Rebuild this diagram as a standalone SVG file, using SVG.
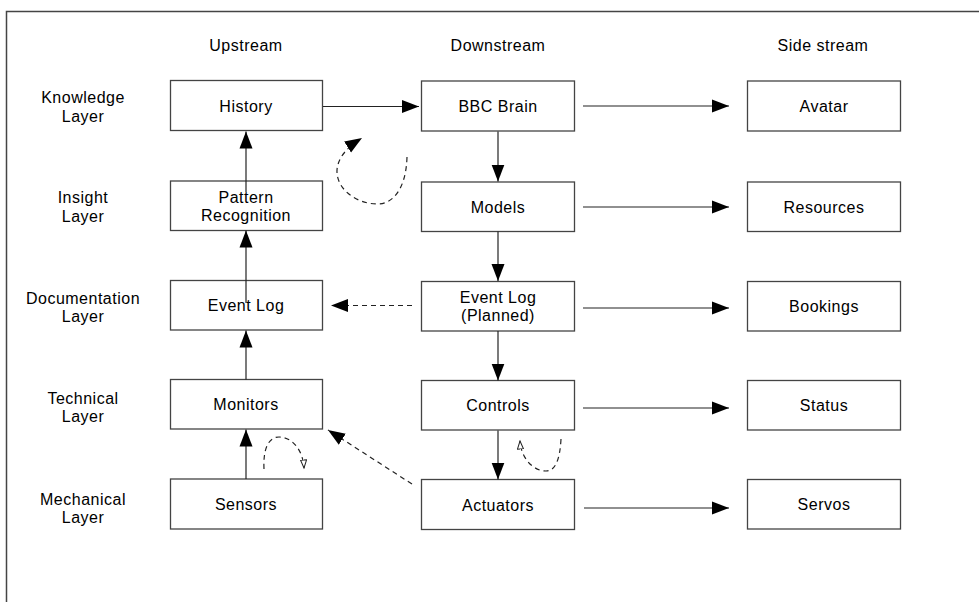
<svg xmlns="http://www.w3.org/2000/svg" width="979" height="602" viewBox="0 0 979 602">
<defs>
<style>
text{font-family:"Liberation Sans",Arial,sans-serif;font-size:16px;fill:#000;text-anchor:middle;letter-spacing:0.5px}
.box{fill:#fff;stroke:#444;stroke-width:1.3}
.ln{fill:none;stroke:#222;stroke-width:1.2}
.dash{fill:none;stroke:#222;stroke-width:1.2;stroke-dasharray:5 4}
</style>
<marker id="ah" markerUnits="userSpaceOnUse" markerWidth="18" markerHeight="14" refX="17" refY="7" orient="auto">
<path d="M0,0.5 L17,7 L0,13.5 Z" fill="#000"/>
</marker>
<marker id="oh" markerUnits="userSpaceOnUse" markerWidth="10" markerHeight="8" refX="8.5" refY="3.5" orient="auto">
<path d="M0.5,0.5 L8.5,3.5 L0.5,6.5 Z" fill="#fff" stroke="#222" stroke-width="1"/>
</marker>
</defs>
<rect width="979" height="602" fill="#fff"/>
<path d="M979,11.5 H6.5 V602" fill="none" stroke="#444" stroke-width="1.5"/>

<g id="headers">
<text x="246" y="51">Upstream</text>
<text x="498" y="51">Downstream</text>
<text x="823" y="51">Side stream</text>
</g>
<g id="layers">
<text x="83" y="102.5">Knowledge</text><text x="83" y="121.5">Layer</text>
<text x="83" y="203">Insight</text><text x="83" y="221.5">Layer</text>
<text x="83" y="304">Documentation</text><text x="83" y="322">Layer</text>
<text x="83" y="404">Technical</text><text x="83" y="422">Layer</text>
<text x="83" y="505">Mechanical</text><text x="83" y="523">Layer</text>
</g>

<g id="history"><rect class="box" x="170.5" y="80.5" width="152" height="50"/><text x="246" y="111.5">History</text></g>
<g id="pattern"><rect class="box" x="170.5" y="181" width="152" height="49.5"/><text x="246" y="203">Pattern</text><text x="246" y="221">Recognition</text></g>
<g id="eventlog"><rect class="box" x="170.5" y="280.5" width="152" height="49.5"/><text x="246" y="311">Event Log</text></g>
<g id="monitors"><rect class="box" x="170.5" y="379.5" width="152" height="49.5"/><text x="246" y="410">Monitors</text></g>
<g id="sensors"><rect class="box" x="170.5" y="479" width="152" height="50"/><text x="246" y="510">Sensors</text></g>

<g id="bbcbrain"><rect class="box" x="421.5" y="81" width="153" height="50"/><text x="498" y="111.5">BBC Brain</text></g>
<g id="models"><rect class="box" x="421.5" y="182" width="153" height="49.5"/><text x="498" y="212.5">Models</text></g>
<g id="eventlogplanned"><rect class="box" x="421.5" y="281.5" width="153" height="49.5"/><text x="498" y="303">Event Log</text><text x="498" y="321">(Planned)</text></g>
<g id="controls"><rect class="box" x="421.5" y="380.5" width="153" height="49.5"/><text x="498" y="411">Controls</text></g>
<g id="actuators"><rect class="box" x="421.5" y="479.5" width="153" height="50"/><text x="498" y="510.5">Actuators</text></g>

<g id="avatar"><rect class="box" x="747.5" y="81" width="153" height="50"/><text x="824" y="111.5">Avatar</text></g>
<g id="resources"><rect class="box" x="747.5" y="182" width="153" height="49.5"/><text x="824" y="212.5">Resources</text></g>
<g id="bookings"><rect class="box" x="747.5" y="281.5" width="153" height="49.5"/><text x="824" y="312">Bookings</text></g>
<g id="status"><rect class="box" x="747.5" y="380.5" width="153" height="49.5"/><text x="824" y="411">Status</text></g>
<g id="servos"><rect class="box" x="747.5" y="479.5" width="153" height="49.5"/><text x="824" y="510">Servos</text></g>

<g id="connectors">
<line class="ln" x1="323" y1="106.5" x2="419" y2="106.5" marker-end="url(#ah)"/>
<line class="ln" x1="246" y1="192" x2="246" y2="131.5" marker-end="url(#ah)"/>
<line class="ln" x1="246" y1="303" x2="246" y2="230.5" marker-end="url(#ah)"/>
<line class="ln" x1="246" y1="379.5" x2="246" y2="330.5" marker-end="url(#ah)"/>
<line class="ln" x1="246" y1="479" x2="246" y2="429.5" marker-end="url(#ah)"/>
<line class="ln" x1="498" y1="131.5" x2="498" y2="181.5" marker-end="url(#ah)"/>
<line class="ln" x1="498" y1="231.5" x2="498" y2="281" marker-end="url(#ah)"/>
<line class="ln" x1="498" y1="331" x2="498" y2="380.5" marker-end="url(#ah)"/>
<line class="ln" x1="498" y1="430.5" x2="498" y2="479.5" marker-end="url(#ah)"/>
<line class="ln" x1="583" y1="106" x2="729" y2="106" marker-end="url(#ah)"/>
<line class="ln" x1="583" y1="207" x2="729" y2="207" marker-end="url(#ah)"/>
<line class="ln" x1="583" y1="308" x2="729" y2="308" marker-end="url(#ah)"/>
<line class="ln" x1="583" y1="408" x2="729" y2="408" marker-end="url(#ah)"/>
<line class="ln" x1="584" y1="508" x2="729" y2="508" marker-end="url(#ah)"/>
<line class="dash" x1="412" y1="305.5" x2="331" y2="305.5" marker-end="url(#ah)"/>
<line class="dash" x1="412" y1="484" x2="328" y2="430" marker-end="url(#ah)"/>
<path class="dash" d="M407,157 C406,190 392,204 378,204 C355,204 336,188 337,170 C338,158 346,148 362,138" marker-end="url(#ah)"/>
<path class="dash" d="M264,469 C263,450 268,437 279,437 C292,437 303,450 304,468" marker-end="url(#oh)"/>
<path class="dash" d="M561,439 C560,458 556,471 546,471 C533,471 521,458 520,441" marker-end="url(#oh)"/>
</g>
</svg>
